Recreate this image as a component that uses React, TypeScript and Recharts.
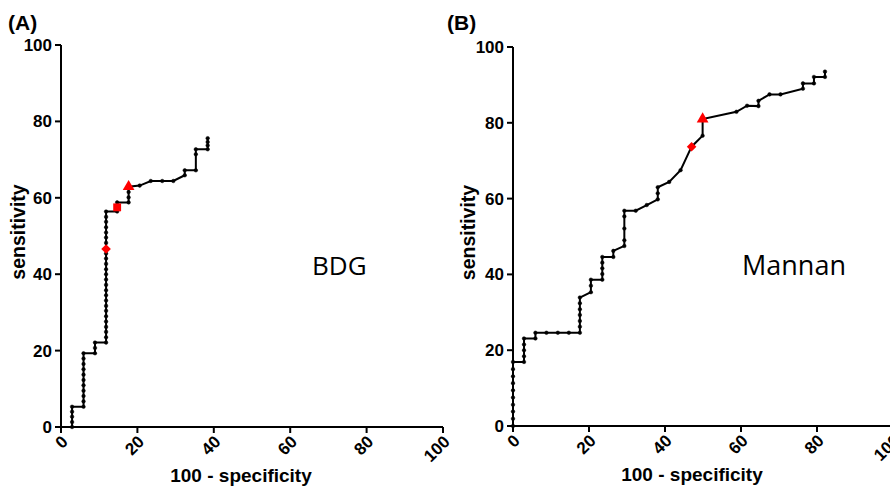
import { ComposedChart, Line, Scatter, Symbols, XAxis, YAxis } from 'recharts'

// axis ticks shared by both panels
const axisTicks = [0, 20, 40, 60, 80, 100]

// (A) BDG ROC curve: [100 - specificity, sensitivity]
const bdgCurve: [number, number][] = [
  [2.9, 0], [2.9, 1.3], [2.9, 2.7], [2.9, 4.0], [2.9, 5.3],
  [5.9, 5.3], [5.9, 6.7], [5.9, 8.1], [5.9, 9.5], [5.9, 10.9], [5.9, 12.3], [5.9, 13.7], [5.9, 15.1], [5.9, 16.5], [5.9, 17.9], [5.9, 19.3],
  [8.9, 19.3], [8.9, 20.7], [8.9, 22.1],
  [11.8, 22.1], [11.8, 23.5], [11.8, 24.9], [11.8, 26.2], [11.8, 27.6], [11.8, 29.0], [11.8, 30.4], [11.8, 31.7], [11.8, 33.1],
  [11.8, 34.5], [11.8, 35.8], [11.8, 37.2], [11.8, 38.6], [11.8, 40.0], [11.8, 41.3], [11.8, 42.7], [11.8, 44.1], [11.8, 45.4],
  [11.8, 46.8], [11.8, 48.2], [11.8, 49.6], [11.8, 50.9], [11.8, 52.3], [11.8, 53.7], [11.8, 55.0], [11.8, 56.4],
  [14.7, 56.4], [14.7, 57.6], [14.7, 58.8],
  [17.7, 58.8], [17.7, 60.1], [17.7, 61.5], [17.7, 62.9],
  [20.6, 63.2], [23.5, 64.4], [26.5, 64.4], [29.4, 64.4],
  [32.4, 65.9], [32.4, 67.2],
  [35.3, 67.2], [35.3, 71.4], [35.3, 72.7],
  [38.4, 72.7], [38.4, 73.7], [38.4, 74.6], [38.4, 75.6],
]

// (A) cut-off markers
const bdgDiamond = [{ x: 11.8, y: 46.6 }]
const bdgSquare = [{ x: 14.7, y: 57.5 }]
const bdgTriangle = [{ x: 17.7, y: 62.9 }]

// (B) Mannan ROC curve
const mannanCurve: [number, number][] = [
  [0, 0], [0, 1.9], [0, 3.8], [0, 5.6], [0, 7.5], [0, 9.4], [0, 11.3], [0, 13.1], [0, 15.0], [0, 16.9],
  [2.9, 16.9], [2.9, 18.4], [2.9, 20.0], [2.9, 21.5], [2.9, 23.1],
  [5.9, 23.1], [5.9, 24.6],
  [8.8, 24.6], [11.8, 24.6], [14.7, 24.6],
  [17.6, 24.6], [17.6, 26.2], [17.6, 27.7], [17.6, 29.3], [17.6, 30.8], [17.6, 32.4], [17.6, 33.9],
  [20.5, 35.3], [20.5, 37.0], [20.5, 38.6],
  [23.5, 38.6], [23.5, 40.1], [23.5, 41.6], [23.5, 43.1], [23.5, 44.6],
  [26.4, 44.6], [26.4, 46.2],
  [29.3, 47.5], [29.3, 49.0], [29.3, 52.1], [29.3, 55.3], [29.3, 56.8],
  [32.3, 56.8], [35.2, 58.3],
  [38.1, 59.8], [38.1, 61.4], [38.1, 63.0],
  [41.1, 64.4], [44.1, 67.5], [47.0, 73.7],
  [49.9, 76.6], [49.9, 81.0],
  [58.8, 82.9], [61.6, 84.5],
  [64.6, 84.4], [64.6, 85.8],
  [67.5, 87.5], [70.4, 87.5],
  [76.3, 89.0], [76.3, 90.4],
  [79.2, 90.4], [79.2, 92.1],
  [82.1, 92.1], [82.1, 93.5],
]

const mannanDiamond = [{ x: 47.0, y: 73.7 }]
const mannanTriangle = [{ x: 49.9, y: 81.0 }]

const FONT = '"Liberation Sans", Arial, sans-serif'
const RED = '#ff0000'

const toRows = (pts: [number, number][]) => pts.map(([x, y]) => ({ x, y }))

const XTick = (props: any) => {
  const { x, y, payload } = props
  return (
    <text
      transform={`translate(${x + 4},${y + 4}) rotate(-45)`}
      textAnchor="end"
      dominantBaseline="central"
      fontFamily={FONT}
      fontWeight="bold"
      fontSize={17}
      fill="#000"
    >
      {payload.value}
    </text>
  )
}

const XLabel = (props: any) => {
  const vb = props.viewBox
  if (!vb) return null
  return (
    <text x={vb.x + vb.width / 2 - 11} y={vb.y + 55} textAnchor="middle" fontFamily={FONT} fontWeight="bold" fontSize={19} fill="#000">
      100 - specificity
    </text>
  )
}

const YLabel = (props: any) => {
  const vb = props.viewBox
  if (!vb) return null
  const cx = vb.x + 18
  const cy = vb.y + vb.height / 2 - 4
  return (
    <text
      transform={`translate(${cx},${cy}) rotate(-90)`}
      textAnchor="middle"
      dominantBaseline="central"
      fontFamily={FONT}
      fontWeight="bold"
      fontSize={19.5}
      fill="#000"
    >
      sensitivity
    </text>
  )
}

const marker = (type: 'diamond' | 'square' | 'triangle') => (p: any) => {
  if (type === 'diamond') {
    const h = 4.8
    return <polygon points={`${p.cx},${p.cy - h} ${p.cx + h},${p.cy} ${p.cx},${p.cy + h} ${p.cx - h},${p.cy}`} fill={RED} />
  }
  return <Symbols cx={p.cx} cy={p.cy} type={type} size={type === 'square' ? 62 : 60} fill={RED} stroke="none" />
}

function RocPanel({ curve, markers, top, bottomH, yWidth }: {
  curve: [number, number][]
  markers: { data: { x: number; y: number }[]; type: 'diamond' | 'square' | 'triangle' }[]
  top: number
  bottomH: number
  yWidth: number
}) {
  return (
    <ComposedChart width={450} height={491} margin={{ top, right: 7, bottom: 0, left: 0 }} style={{ overflow: 'visible' }}>
      <XAxis
        type="number"
        dataKey="x"
        domain={[0, 100]}
        ticks={axisTicks}
        interval={0}
        height={bottomH}
        axisLine={{ stroke: '#000', strokeWidth: 2 }}
        tickLine={{ stroke: '#000', strokeWidth: 2 }}
        tickSize={6}
        tickMargin={2}
        tick={<XTick />}
        label={{ content: XLabel }}
      />
      <YAxis
        type="number"
        domain={[0, 100]}
        ticks={axisTicks}
        interval={0}
        width={yWidth}
        axisLine={{ stroke: '#000', strokeWidth: 2 }}
        tickLine={{ stroke: '#000', strokeWidth: 2 }}
        tickSize={6}
        tickMargin={3}
        tick={{ fill: '#000', fontSize: 17, fontWeight: 'bold', fontFamily: FONT }}
        label={{ content: YLabel }}
      />
      <Line
        data={toRows(curve)}
        dataKey="y"
        type="linear"
        stroke="#000"
        strokeWidth={2}
        dot={{ r: 1.8, fill: '#000', stroke: '#000', strokeWidth: 0.5 }}
        isAnimationActive={false}
      />
      {markers.map((m, i) => (
        <Scatter key={i} data={m.data} dataKey="y" shape={marker(m.type)} isAnimationActive={false} />
      ))}
    </ComposedChart>
  )
}

export default function App() {
  return (
    <div style={{ position: 'absolute', left: 0, top: 0, width: 890, height: 491, overflow: 'hidden', background: '#fff' }}>
      <div style={{ position: 'absolute', left: 0, top: 0 }}>
        <RocPanel
          curve={bdgCurve}
          markers={[
            { data: bdgDiamond, type: 'diamond' },
            { data: bdgSquare, type: 'square' },
            { data: bdgTriangle, type: 'triangle' },
          ]}
          top={45}
          bottomH={64}
          yWidth={61}
        />
      </div>
      <div style={{ position: 'absolute', left: 450, top: 0 }}>
        <RocPanel
          curve={mannanCurve}
          markers={[
            { data: mannanDiamond, type: 'diamond' },
            { data: mannanTriangle, type: 'triangle' },
          ]}
          top={47}
          bottomH={65}
          yWidth={63}
        />
      </div>
      <svg width={890} height={491} style={{ position: 'absolute', left: 0, top: 0, pointerEvents: 'none' }}>
        <text x={8} y={30} fontFamily={FONT} fontWeight="bold" fontSize={21} fill="#000">(A)</text>
        <text x={447} y={30} fontFamily={FONT} fontWeight="bold" fontSize={21} fill="#000">(B)</text>
        <text x={312} y={275} fontFamily='"Open Sans", sans-serif' fontSize={26} fill="#000">BDG</text>
        <text x={742} y={275} fontFamily='"Open Sans", sans-serif' fontSize={27} fill="#000">Mannan</text>
      </svg>
    </div>
  )
}
